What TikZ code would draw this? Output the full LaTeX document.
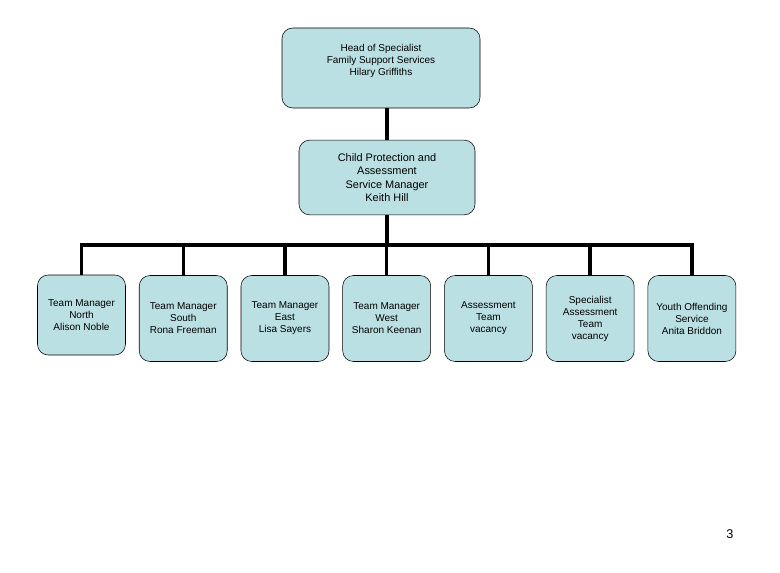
\documentclass[tikz,border=0pt]{standalone}
\usepackage{fontspec}
\setmainfont{Liberation Sans}
\usetikzlibrary{positioning}
\definecolor{boxfill}{HTML}{BBE0E3}

\begin{document}
\begin{tikzpicture}[x=0.75pt,y=-0.75pt]
\tikzstyle{unit}=[draw, fill=boxfill, rounded corners=8pt, align=center, inner sep=2pt, font=\fontsize{7.5}{9}\selectfont]
\tikzstyle{team}=[unit, minimum width=66pt, minimum height=64.5pt, node distance=76.3pt]
\tikzstyle{link}=[line width=2.6pt]

\useasboundingbox (0,0) rectangle (780,573);

\node[unit, minimum width=148.5pt, minimum height=60pt] (head) at (381,68) {Head of Specialist\\Family Support Services\\Hilary Griffiths\\[3pt]\mbox{}};
\node[unit, minimum width=132pt, minimum height=56pt, font=\fontsize{8.2}{10}\selectfont] (cpm) at (387,177.5) {Child Protection and\\Assessment\\Service Manager\\Keith Hill};

\node[team, minimum height=60pt] (north) at (81.5,315) {Team Manager\\North\\Alison Noble};
\node[team] (south) at (183.25,318.5) {Team Manager\\South\\Rona Freeman};
\node[team, right of = south] (east) {Team Manager\\East\\Lisa Sayers};
\node[team, right of = east] (west) {Team Manager\\West\\Sharon Keenan};
\node[team, right of = west] (assess) {Assessment\\Team\\vacancy};
\node[team, right of = assess] (spec) {Specialist\\Assessment\\Team\\vacancy};
\node[team, right of = spec] (yos) {Youth Offending\\Service\\Anita Briddon};

\coordinate (bus) at (387,245);

\draw[link] (cpm.north |- head.south) -- (cpm.north);
\draw[link] (cpm.south) -- (bus);
\draw[link] (north.north) -- (north.north |- bus) -- (yos.north |- bus) -- (yos.north);
\draw[link] (south.north |- bus) -- (south.north);
\draw[link] (east.north |- bus) -- (east.north);
\draw[link] (west.north |- bus) -- (west.north);
\draw[link] (assess.north |- bus) -- (assess.north);
\draw[link] (spec.north |- bus) -- (spec.north);

\node[font=\fontsize{9.5}{11}\selectfont] (pgnum) at (730,534) {3};
\end{tikzpicture}
\end{document}
